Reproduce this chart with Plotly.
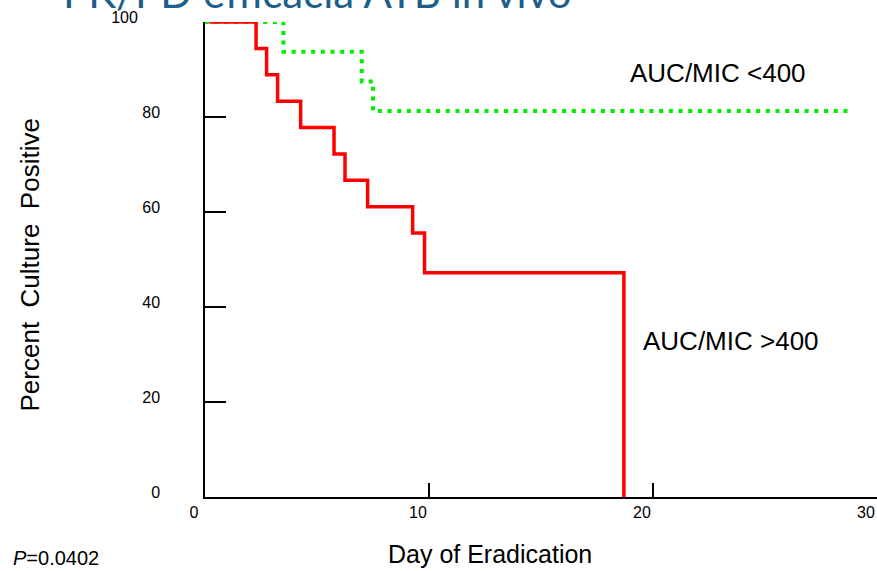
import plotly.graph_objects as go

# Kaplan-Meier style step data (days, percent culture positive)
red_days = [0.2, 2.28, 2.75, 3.24, 4.27, 5.76, 6.25, 7.26, 9.27, 9.8, 18.7]
red_pct = [100, 94.4, 88.9, 83.3, 77.8, 72.2, 66.7, 61.1, 55.6, 47.2, 0]
green_days = [0, 3.5, 7.0, 7.5, 28.7]
green_pct = [100, 93.75, 87.5, 81.25, 81.25]

x_ticks = [0, 10, 20, 30]
y_ticks = [0, 20, 40, 60, 80, 100]
y_ticktext = ["0", "20", "40", "60", "80", "100\u00a0\u00a0\u00a0\u00a0\u00a0"]

label_low = "AUC/MIC <400"
label_high = "AUC/MIC >400"

FONT = "Liberation Sans, Arial, sans-serif"

fig = go.Figure()
fig.add_trace(go.Scatter(
    x=green_days, y=green_pct, mode="lines", line_shape="hv",
    line=dict(color="#00ee00", width=4, dash="4px,5.7px"),
    showlegend=False, hoverinfo="skip"))
fig.add_trace(go.Scatter(
    x=red_days, y=red_pct, mode="lines", line_shape="hv",
    line=dict(color="#ff0000", width=3.5),
    showlegend=False, hoverinfo="skip"))

fig.update_layout(
    width=877, height=571,
    margin=dict(l=205, r=0, t=22, b=74),
    paper_bgcolor="white", plot_bgcolor="white",
    font=dict(family=FONT, color="black"),
    xaxis=dict(range=[0, 30], tickvals=x_ticks, ticks="inside", ticklen=14,
               tickwidth=1.5, tickcolor="black", showline=True, linecolor="black",
               linewidth=2, showgrid=False, zeroline=False,
               tickfont=dict(size=16, family=FONT), ticklabelshift=-11),
    yaxis=dict(range=[0, 100], tickvals=y_ticks, ticktext=y_ticktext,
               ticks="inside", ticklen=21, tickwidth=1.5, tickcolor="black",
               showline=True, linecolor="black", linewidth=1.5, showgrid=False,
               zeroline=False, tickfont=dict(size=16, family=FONT),
               ticklabelstandoff=40, ticklabelshift=-5),
)

fig.add_annotation(x=22.9, y=89.3, xref="x", yref="y", text=label_low,
                   showarrow=False, font=dict(size=26, family=FONT, color="black"))
fig.add_annotation(x=23.5, y=32.8, xref="x", yref="y", text=label_high,
                   showarrow=False, font=dict(size=26, family=FONT, color="black"))
fig.add_annotation(x=0.424, y=-0.12, xref="paper", yref="paper",
                   xanchor="center", yanchor="middle",
                   text="Day of Eradication", showarrow=False,
                   font=dict(size=25, family=FONT, color="black"))
fig.add_annotation(x=-0.26, y=0.488, xref="paper", yref="paper",
                   xanchor="center", yanchor="middle",
                   text="Percent  Culture  Positive", textangle=-90, showarrow=False,
                   font=dict(size=26, family=FONT, color="black"))
fig.add_annotation(x=-0.2887, y=-0.128, xref="paper", yref="paper",
                   xanchor="left", yanchor="middle",
                   text="<i>P</i>=0.0402", showarrow=False,
                   font=dict(size=20, family=FONT, color="black"))
fig.add_annotation(x=-0.214, y=1.0, xref="paper", yref="paper",
                   xanchor="left", yanchor="bottom", yshift=3,
                   text="PK/PD efficacia ATB in vivo", showarrow=False,
                   font=dict(size=42, family="Lato, sans-serif", color="#1d5f8a"))

fig.write_html("out.html", config={"displayModeBar": False},
               post_script="document.body.style.margin='0px';document.body.style.overflow='hidden';")
